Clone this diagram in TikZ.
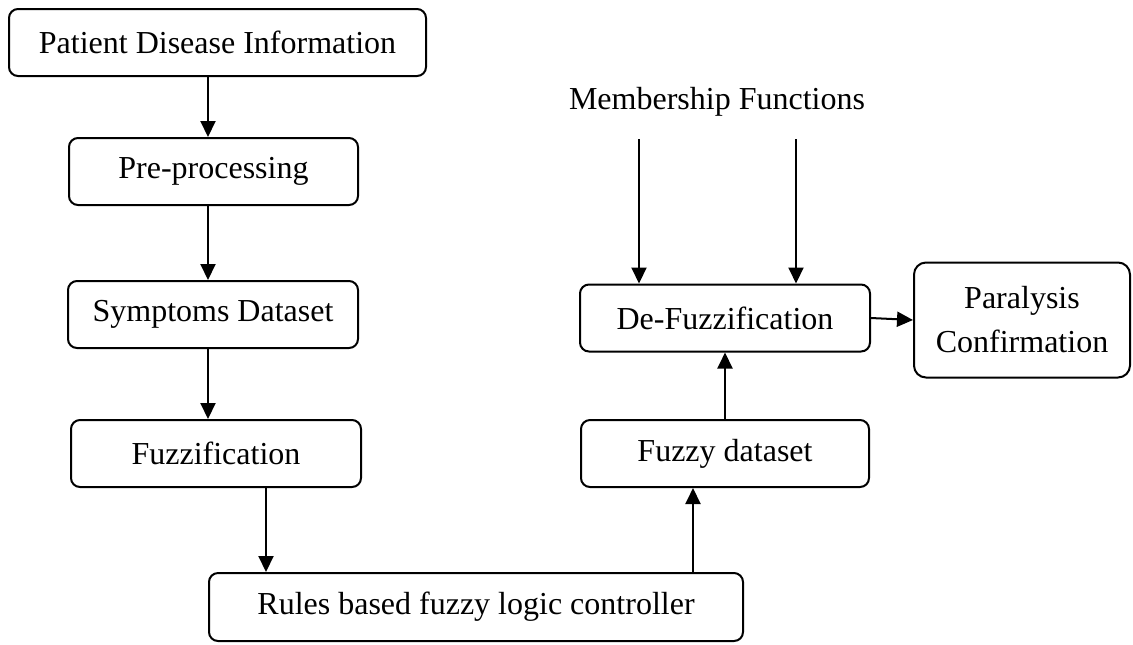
\documentclass[tikz,border=0pt]{standalone}
\usepackage{fontspec}
\setmainfont{Liberation Serif}
\usetikzlibrary{arrows.meta,calc}
\begin{document}
\begin{tikzpicture}[x=0.5pt,y=-0.5pt,
  box/.style={draw, line width=1pt, rounded corners=4.5pt, inner sep=0pt, align=center, font=\fontsize{16}{22}\selectfont},
  lbl/.style={inner sep=0pt, align=center, font=\fontsize{16}{22}\selectfont},
  arr/.style={line width=1pt, -{Triangle[length=8pt,width=7.5pt]}}]
\useasboundingbox (0,0) rectangle (1133,644);
% boxes
\node[box, minimum width=208.5pt, minimum height=33.5pt] (b1) at (217.5,42.5) {Patient Disease Information};
\node[box, minimum width=144.5pt, minimum height=33.5pt] (b2) at (213.5,171.5) {Pre-processing};
\node[box, minimum width=145pt, minimum height=33.5pt] (b3) at (213,314.5) {Symptoms Dataset};
\node[box, minimum width=145pt, minimum height=33.5pt] (b4) at (216,453.5) {Fuzzification};
\node[box, minimum width=267pt, minimum height=34pt] (b5) at (476,607) {Rules based fuzzy logic controller};
\node[box, minimum width=144pt, minimum height=33.5pt] (b6) at (725,453.5) {Fuzzy dataset};
\node[box, minimum width=145pt, minimum height=33.5pt] (b7) at (725,318) {De-Fuzzification};
\node[box, minimum width=108pt, minimum height=57.5pt, rounded corners=6pt] (par) at (1022,320) {Paralysis\\Confirmation};
\node[lbl] (mf) at (717,102) {Membership Functions};
% helper coordinates
\coordinate (xa) at (208,0);
\coordinate (xb) at (266,0);
\coordinate (xc) at (693,0);
\coordinate (m1) at (639,139);
\coordinate (m2) at (796,139);
% connectors
\draw[arr] (b1.south -| xa) -- (b2.north -| xa);
\draw[arr] (b2.south -| xa) -- (b3.north -| xa);
\draw[arr] (b3.south -| xa) -- (b4.north -| xa);
\draw[arr] (b4.south -| xb) -- (b5.north -| xb);
\draw[arr] (b5.north -| xc) -- (b6.south -| xc);
\draw[arr] (b6.north) -- (b7.south);
\draw[arr] (m1) -- (b7.north -| m1);
\draw[arr] (m2) -- (b7.north -| m2);
\draw[arr] (b7.east) -- (par.west);
\end{tikzpicture}
\end{document}
